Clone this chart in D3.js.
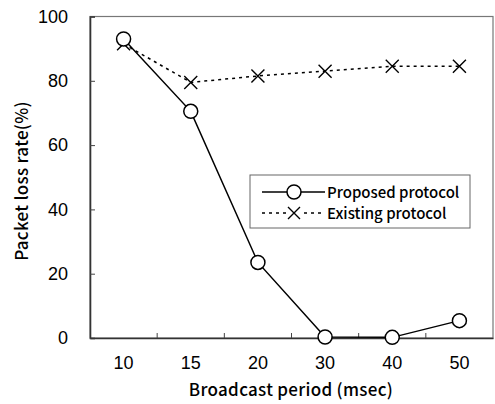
<!DOCTYPE html>
<html>
<head>
<meta charset="utf-8">
<script src="https://cdn.jsdelivr.net/npm/d3@7"></script>
<style>
  body { margin: 0; background: #fff; }
  svg { display: block; font-family: "Noto Sans CJK JP", "Liberation Sans", sans-serif; }
</style>
</head>
<body>
<svg id="chart" width="495" height="404"></svg>
<script>
// データ
const periods = ['10', '15', '20', '30', '40', '50'];
const proposed = [93, 70.5, 23.5, 0.3, 0.2, 5.4];
const existing = [91.5, 79.5, 81.5, 83, 84.5, 84.5];
const yTicks = [0, 20, 40, 60, 80, 100];

const W = 495, H = 404;
const margin = { left: 90, right: 2, top: 16.5, bottom: 66 };
const svg = d3.select('#chart');

const x = d3.scaleBand().domain(periods).range([margin.left, W - margin.right]);
const y = d3.scaleLinear().domain([0, 100]).range([H - margin.bottom, margin.top]);
const cx = d => x(d) + x.bandwidth() / 2;

// frame (top/right lighter)
svg.append('rect')
    .attr('x', margin.left).attr('y', margin.top)
    .attr('width', W - margin.right - margin.left)
    .attr('height', H - margin.bottom - margin.top)
    .attr('fill', 'none').attr('stroke', '#777').attr('stroke-width', 1.2);

// y axis
const yAxis = svg.append('g')
    .attr('transform', `translate(${margin.left},0)`)
    .call(d3.axisLeft(y).tickValues(yTicks).tickSize(-5).tickPadding(22));
yAxis.select('.domain').attr('stroke', '#333').attr('stroke-width', 1.6);
yAxis.selectAll('.tick line').attr('stroke', '#444');
yAxis.selectAll('text').attr('font-size', 18).attr('font-weight', 500).attr('fill', '#000');

// x axis: ticks on band edges, labels at centres
const xAxis = svg.append('g')
    .attr('transform', `translate(0,${H - margin.bottom})`)
    .call(d3.axisBottom(x).tickSize(0).tickPadding(18));
xAxis.select('.domain').attr('stroke', '#333').attr('stroke-width', 1.6);
xAxis.selectAll('text').attr('font-size', 18).attr('font-weight', 500).attr('fill', '#000');
xAxis.selectAll('.edge')
    .data(periods.slice(1))
    .enter().append('line')
    .attr('x1', d => x(d)).attr('x2', d => x(d))
    .attr('y1', 0).attr('y2', -5)
    .attr('stroke', '#444');

// axis titles
svg.append('text')
    .attr('x', 291).attr('y', 396)
    .attr('text-anchor', 'middle')
    .attr('font-size', 17).attr('font-weight', 500)
    .attr('letter-spacing', 0.3)
    .text('Broadcast period (msec)');
svg.append('text')
    .attr('transform', 'translate(28,181) rotate(-90)')
    .attr('text-anchor', 'middle')
    .attr('font-size', 17).attr('font-weight', 500)
    .attr('letter-spacing', 0.3)
    .text('Packet loss rate(%)');

const line = d3.line().x((d, i) => cx(periods[i])).y(d => y(d));

function drawX(g, px, py, s) {
    g.append('path')
        .attr('d', `M${px - s},${py - s}L${px + s},${py + s}M${px - s},${py + s}L${px + s},${py - s}`)
        .attr('stroke', '#000').attr('stroke-width', 1.4).attr('fill', 'none');
}
function drawO(g, px, py) {
    g.append('circle').attr('cx', px).attr('cy', py).attr('r', 7)
        .attr('fill', '#fff').attr('stroke', '#000').attr('stroke-width', 1.5);
}

// existing (dotted)
svg.append('path').datum(existing)
    .attr('d', line).attr('fill', 'none')
    .attr('stroke', '#000').attr('stroke-width', 1.5).attr('stroke-dasharray', '3,4');
const gEx = svg.append('g');
existing.forEach((v, i) => drawX(gEx, cx(periods[i]), y(v), 6.5));

// proposed (solid)
svg.append('path').datum(proposed)
    .attr('d', line).attr('fill', 'none')
    .attr('stroke', '#000').attr('stroke-width', 1.5);
const gPr = svg.append('g');
proposed.forEach((v, i) => drawO(gPr, cx(periods[i]), y(v)));

// legend
const lg = svg.append('g');
lg.append('rect').attr('x', 250).attr('y', 175).attr('width', 220).attr('height', 53)
    .attr('fill', '#fff').attr('stroke', '#666').attr('stroke-width', 1);
lg.append('line').attr('x1', 262).attr('x2', 325).attr('y1', 192).attr('y2', 192)
    .attr('stroke', '#000').attr('stroke-width', 1.5);
drawO(lg, 294, 192);
lg.append('line').attr('x1', 262).attr('x2', 325).attr('y1', 213).attr('y2', 213)
    .attr('stroke', '#000').attr('stroke-width', 1.5).attr('stroke-dasharray', '3,4');
lg.append('rect').attr('x', 287).attr('y', 206).attr('width', 14).attr('height', 14).attr('fill', '#fff');
drawX(lg, 294, 213, 6);
lg.append('text').attr('x', 327).attr('y', 198).attr('font-size', 15).attr('font-weight', 500).text('Proposed protocol');
lg.append('text').attr('x', 327).attr('y', 219).attr('font-size', 15).attr('font-weight', 500).text('Existing protocol');
</script>
</body>
</html>
